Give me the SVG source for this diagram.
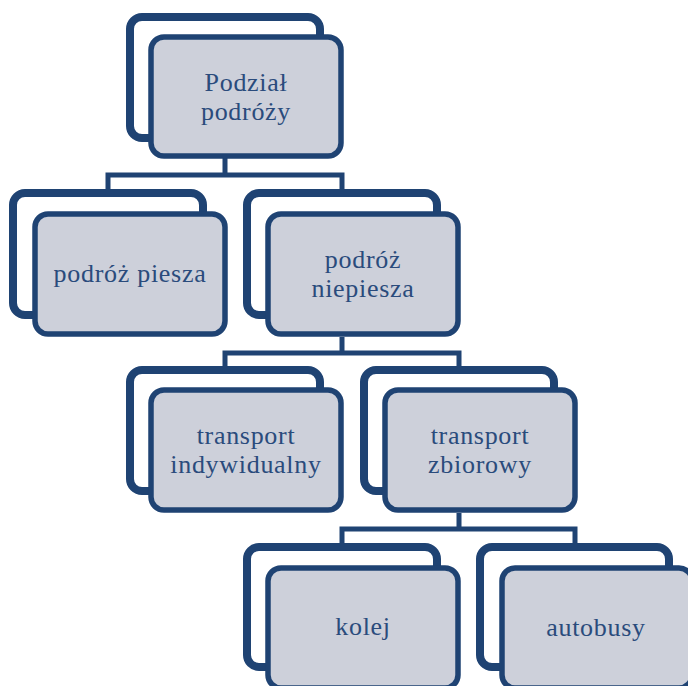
<svg xmlns="http://www.w3.org/2000/svg" width="688" height="686" viewBox="0 0 688 686">
<style>
.back{fill:#ffffff;stroke:#1f4373;stroke-width:8}
.front{fill:#cdd0da;stroke:#1f4373;stroke-width:5.5}
.conn{fill:none;stroke:#1f4373;stroke-width:5;stroke-linejoin:miter}
.t{font-family:"Liberation Serif","Times New Roman",serif;font-size:26px;letter-spacing:0.7px;fill:#2a4b7c;text-anchor:middle}
</style>
<rect width="688" height="686" fill="#ffffff"/>
<g id="connectors">
<path class="conn" d="M225 142V175M108 191V175H342V191"/>
<path class="conn" d="M342 337V353M225 368V353H459V368"/>
<path class="conn" d="M459 513V529M342 545V529H575V545"/>
</g>
<g id="node-podzial">
<rect class="back" x="130" y="17" width="190" height="121" rx="12"/>
<rect class="front" x="151" y="37" width="190" height="119" rx="13"/>
<text class="t" x="246" y="91">Podział</text>
<text class="t" x="246" y="120">podróży</text>
</g>
<g id="node-piesza">
<rect class="back" x="13" y="193" width="190" height="122" rx="12"/>
<rect class="front" x="35" y="214" width="190" height="120" rx="13"/>
<text class="t" x="130" y="282">podróż piesza</text>
</g>
<g id="node-niepiesza">
<rect class="back" x="247" y="193" width="190" height="122" rx="12"/>
<rect class="front" x="268" y="214" width="190" height="120" rx="13"/>
<text class="t" x="363" y="268">podróż</text>
<text class="t" x="363" y="297">niepiesza</text>
</g>
<g id="node-indywidualny">
<rect class="back" x="130" y="370" width="190" height="121" rx="12"/>
<rect class="front" x="151" y="390" width="190" height="120" rx="13"/>
<text class="t" x="246" y="444">transport</text>
<text class="t" x="246" y="473">indywidualny</text>
</g>
<g id="node-zbiorowy">
<rect class="back" x="364" y="370" width="190" height="121" rx="12"/>
<rect class="front" x="385" y="390" width="190" height="120" rx="13"/>
<text class="t" x="480" y="444">transport</text>
<text class="t" x="480" y="473">zbiorowy</text>
</g>
<g id="node-kolej">
<rect class="back" x="247" y="547" width="190" height="120" rx="12"/>
<rect class="front" x="268" y="568" width="190" height="120" rx="13"/>
<text class="t" x="363" y="635">kolej</text>
</g>
<g id="node-autobusy">
<rect class="back" x="480" y="547" width="189" height="120" rx="12"/>
<rect class="front" x="502" y="568" width="190" height="120" rx="13"/>
<text class="t" x="596" y="636">autobusy</text>
</g>
</svg>
